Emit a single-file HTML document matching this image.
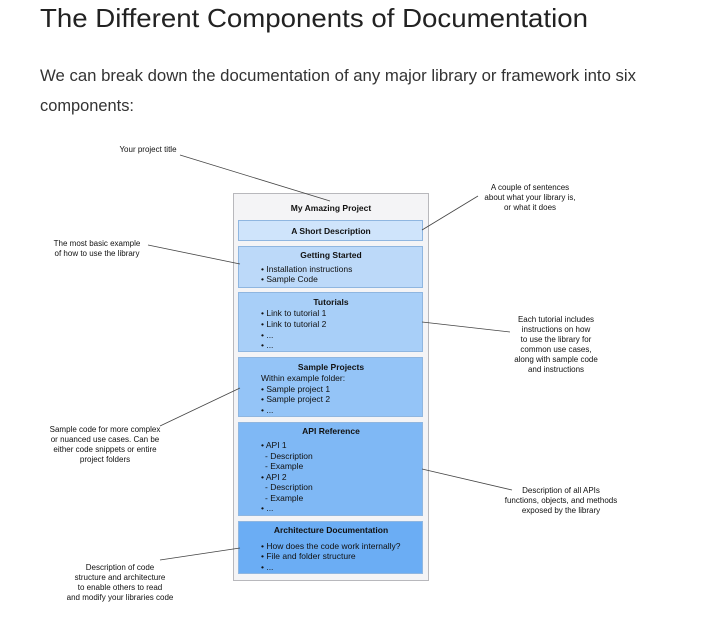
<!DOCTYPE html>
<html><head><style>
html,body{margin:0;padding:0;background:#fff;}
svg{display:block;font-family:"Liberation Sans",Arial,sans-serif;}
</style></head><body>
<svg width="702" height="628" viewBox="0 0 702 628" xmlns="http://www.w3.org/2000/svg">
<text x="40" y="27" font-size="26" fill="#222" textLength="548" lengthAdjust="spacingAndGlyphs">The Different Components of Documentation</text>
<text x="40" y="81" font-size="17" fill="#333" textLength="596" lengthAdjust="spacingAndGlyphs">We can break down the documentation of any major library or framework into six</text>
<text x="40" y="111" font-size="17" fill="#333" textLength="94" lengthAdjust="spacingAndGlyphs">components:</text>

<rect x="233.5" y="193.5" width="195" height="387" fill="#f4f4f6" stroke="#b8b8bc"/>
<g stroke="#8fb6e0" stroke-width="1">
<rect x="238.5" y="220.5" width="184" height="20" fill="#cfe4fb"/>
<rect x="238.5" y="246.5" width="184" height="41" fill="#bcd9f9"/>
<rect x="238.5" y="292.5" width="184" height="59" fill="#a8cff8"/>
<rect x="238.5" y="357.5" width="184" height="59" fill="#94c4f7"/>
<rect x="238.5" y="422.5" width="184" height="93" fill="#7fb8f5"/>
<rect x="238.5" y="521.5" width="184" height="52" fill="#6badf4"/>
</g>
<g font-size="8.5" fill="#111">
<g font-weight="bold" text-anchor="middle">
<text x="331" y="211">My Amazing Project</text>
<text x="331" y="234">A Short Description</text>
<text x="331" y="258">Getting Started</text>
<text x="331" y="305">Tutorials</text>
<text x="331" y="370">Sample Projects</text>
<text x="331" y="434">API Reference</text>
<text x="331" y="533">Architecture Documentation</text>
</g>
<text x="261" y="272">• Installation instructions</text>
<text x="261" y="282">• Sample Code</text>
<text x="261" y="316">• Link to tutorial 1</text>
<text x="261" y="327">• Link to tutorial 2</text>
<text x="261" y="338">• ...</text>
<text x="261" y="348">• ...</text>
<text x="261" y="381">Within example folder:</text>
<text x="261" y="392">• Sample project 1</text>
<text x="261" y="402">• Sample project 2</text>
<text x="261" y="413">• ...</text>
<text x="261" y="448">• API 1</text>
<text x="265" y="459">- Description</text>
<text x="265" y="469">- Example</text>
<text x="261" y="480">• API 2</text>
<text x="265" y="490">- Description</text>
<text x="265" y="501">- Example</text>
<text x="261" y="511">• ...</text>
<text x="261" y="549">• How does the code work internally?</text>
<text x="261" y="559">• File and folder structure</text>
<text x="261" y="570">• ...</text>
</g>

<g stroke="#444" stroke-width="0.8" fill="none">
<line x1="180" y1="155" x2="330" y2="201"/>
<line x1="422" y1="230" x2="478" y2="196"/>
<line x1="148" y1="245" x2="240" y2="264"/>
<line x1="422" y1="322" x2="510" y2="332"/>
<line x1="160" y1="426" x2="240" y2="388"/>
<line x1="422" y1="469" x2="512" y2="490"/>
<line x1="160" y1="560" x2="240" y2="548"/>
</g>
<g font-size="8" fill="#111" text-anchor="middle">
<text x="148" y="152">Your project title</text>
<text x="530" y="190">A couple of sentences</text>
<text x="530" y="200">about what your library is,</text>
<text x="530" y="210">or what it does</text>
<text x="97" y="246">The most basic example</text>
<text x="97" y="256">of how to use the library</text>
<text x="556" y="322">Each tutorial includes</text>
<text x="556" y="332">instructions on how</text>
<text x="556" y="342">to use the library for</text>
<text x="556" y="352">common use cases,</text>
<text x="556" y="362">along with sample code</text>
<text x="556" y="372">and instructions</text>
<text x="105" y="432">Sample code for more complex</text>
<text x="105" y="442">or nuanced use cases. Can be</text>
<text x="105" y="452">either code snippets or entire</text>
<text x="105" y="462">project folders</text>
<text x="561" y="493">Description of all APIs</text>
<text x="561" y="503">functions, objects, and methods</text>
<text x="561" y="513">exposed by the library</text>
<text x="120" y="570">Description of code</text>
<text x="120" y="580">structure and architecture</text>
<text x="120" y="590">to enable others to read</text>
<text x="120" y="600">and modify your libraries code</text>
</g>
</svg>
</body></html>
